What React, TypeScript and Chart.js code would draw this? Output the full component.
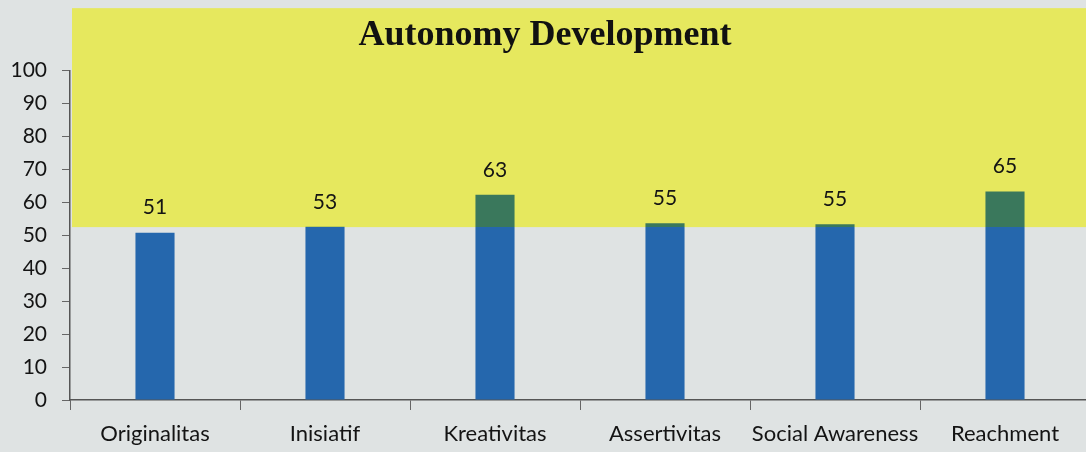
import { useEffect, useRef } from "react";
import { Chart, registerables } from "chart.js";

Chart.register(...registerables);

const categories = [
  "Originalitas",
  "Inisiatif",
  "Kreativitas",
  "Assertivitas",
  "Social Awareness",
  "Reachment",
];
const barValues = [50.8, 52.6, 62.3, 53.7, 53.4, 63.3];
const valueLabels = ["51", "53", "63", "55", "55", "65"];
const yMin = 0;
const yMax = 100;
const yStep = 10;
const bandBottom = 52.5;
const bandTop = 119;
const chartTitle = "Autonomy Development";

const GRAY = "#dfe3e3";
const YELLOW = "#e6e85e";
const BLUE = "#2567ad";
const GREEN = "#3a785c";
const TEXT = "#141414";
const AXIS = "#555";

export default function App() {
  const ref = useRef<HTMLCanvasElement>(null);

  useEffect(() => {
    document.body.style.margin = "0";
    document.body.style.overflow = "hidden";
    const canvas = ref.current;
    if (!canvas) return;

    const bgPlugin = {
      id: "bg",
      beforeDraw(chart: any) {
        const { ctx, chartArea, scales } = chart;
        ctx.save();
        ctx.fillStyle = GRAY;
        ctx.fillRect(0, 0, chart.width, chart.height);
        const yTop = scales.y.getPixelForValue(bandTop);
        const yBot = scales.y.getPixelForValue(bandBottom);
        ctx.fillStyle = YELLOW;
        ctx.fillRect(chartArea.left + 2, yTop, chart.width - chartArea.left - 2, yBot - yTop);
        ctx.restore();
      },
    };

    const labelPlugin = {
      id: "valueLabels",
      afterDatasetsDraw(chart: any) {
        const { ctx } = chart;
        const meta = chart.getDatasetMeta(0);
        ctx.save();
        ctx.font = "21px Lato";
        ctx.fillStyle = TEXT;
        ctx.textAlign = "center";
        ctx.textBaseline = "middle";
        meta.data.forEach((bar: any, i: number) => {
          ctx.fillText(valueLabels[i], bar.x, bar.y - 25);
        });
        ctx.restore();
      },
    };

    const chart = new Chart(canvas, {
      type: "bar",
      data: {
        labels: categories,
        datasets: [
          {
            data: barValues,
            backgroundColor: (c: any) => {
              const ch = c.chart;
              const area = ch.chartArea;
              if (!area) return BLUE;
              const yb = ch.scales.y.getPixelForValue(bandBottom);
              const g = ch.ctx.createLinearGradient(0, area.bottom, 0, area.top);
              const f = Math.min(1, Math.max(0, (area.bottom - yb) / (area.bottom - area.top)));
              g.addColorStop(0, BLUE);
              g.addColorStop(f, BLUE);
              g.addColorStop(f, GREEN);
              g.addColorStop(1, GREEN);
              return g;
            },
            borderWidth: 0,
            categoryPercentage: 1,
            barPercentage: 0.23,
          },
        ],
      },
      options: {
        responsive: false,
        animation: false,
        layout: { padding: { left: 0, right: 2, top: 0, bottom: 0 } },
        plugins: {
          legend: { display: false },
          tooltip: { enabled: false },
          title: {
            display: true,
            text: chartTitle,
            color: "#111",
            font: { family: "Liberation Serif", size: 36, weight: "bold" },
            padding: { top: 14.5, bottom: 13 },
          },
        },
        scales: {
          x: {
            offset: true,
            grid: {
              offset: true,
              drawOnChartArea: false,
              drawTicks: true,
              tickLength: 10,
              color: "#666",
            },
            border: { color: AXIS, width: 1.5 },
            ticks: {
              font: { family: "Lato", size: 22 },
              color: TEXT,
              padding: 11,
              maxRotation: 0,
              autoSkip: false,
            },
            afterFit: (s: any) => {
              s.height = 52;
            },
          },
          y: {
            min: yMin,
            max: yMax,
            grid: {
              drawOnChartArea: false,
              drawTicks: true,
              tickLength: 8,
              color: "#666",
            },
            border: { color: AXIS, width: 1.5 },
            ticks: {
              stepSize: yStep,
              font: { family: "Lato", size: 21 },
              color: TEXT,
              padding: 15,
            },
            afterFit: (s: any) => {
              s.width = 70;
            },
          },
        },
      },
      plugins: [bgPlugin, labelPlugin],
    } as any);

    return () => chart.destroy();
  }, []);

  return (
    <div
      style={{
        position: "fixed",
        left: 0,
        top: 0,
        width: 1086,
        height: 452,
        overflow: "hidden",
        background: GRAY,
      }}
    >
      <canvas ref={ref} width={1092} height={452} style={{ display: "block", width: 1092, height: 452 }} />
    </div>
  );
}
